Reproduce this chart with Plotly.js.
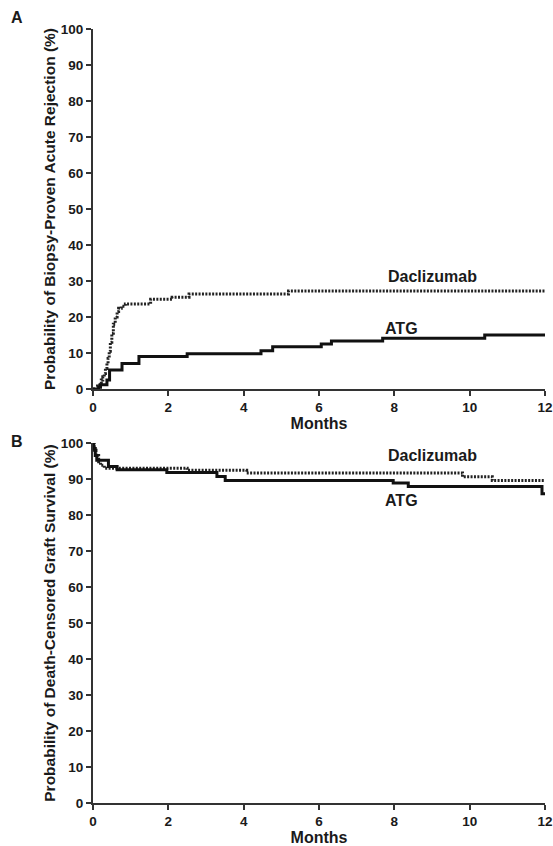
<!DOCTYPE html>
<html>
<head>
<meta charset="utf-8">
<script src="https://cdn.plot.ly/plotly-3.0.1.min.js"></script>
<style>html,body{margin:0;padding:0;background:#fff;}#chart{width:553px;height:846px;}</style>
</head>
<body>
<div id="chart"></div>
<script>
// Panel A: cumulative probability of biopsy-proven acute rejection (%)
const monthsA_dac = [0, 0.12, 0.18, 0.22, 0.26, 0.30, 0.33, 0.37, 0.40, 0.43, 0.46, 0.50, 0.54, 0.59, 0.64, 0.68, 0.75, 0.86, 1.53, 2.10, 2.55, 5.19, 12];
const rejA_dac    = [0, 0.8, 1.6, 2.5, 3.4, 4.3, 5.7, 7.1, 8.5, 10.5, 13.0, 15.5, 18.0, 20.0, 21.5, 22.4, 23.0, 23.6, 24.9, 25.5, 26.4, 27.2, 27.2];
const monthsA_atg = [0, 0.15, 0.20, 0.37, 0.44, 0.77, 1.22, 2.50, 4.46, 4.77, 6.06, 6.33, 7.69, 10.40, 12];
const rejA_atg    = [0, 0.5, 1.2, 2.5, 5.3, 7.1, 9.0, 9.8, 10.6, 11.7, 12.5, 13.3, 14.1, 15.0, 15.0];

// Panel B: probability of death-censored graft survival (%)
const monthsB_dac = [0, 0.03, 0.08, 0.15, 0.20, 0.30, 2.50, 4.08, 9.81, 10.60, 12];
const survB_dac   = [100, 98.0, 96.5, 94.8, 93.8, 93.0, 92.4, 91.7, 90.6, 89.6, 89.6];
const monthsB_atg = [0, 0.02, 0.06, 0.10, 0.41, 0.64, 1.96, 3.29, 3.51, 7.97, 8.37, 11.92, 12];
const survB_atg   = [100, 98.5, 96.5, 95.2, 93.5, 92.6, 91.8, 90.7, 89.6, 88.9, 87.9, 85.9, 85.9];

const seriesNames = ['Daclizumab', 'ATG'];
const yTitles = ['Probability of Biopsy-Proven Acute Rejection (%)', 'Probability of Death-Censored Graft Survival (%)'];
const xTitle = 'Months';
const panelLabels = ['A', 'B'];

const FONT = 'Liberation Sans, Arial, sans-serif';
const INK = '#1a1a1a';
const dotLine = {color: '#222', width: 3, dash: '2px,1.4px', shape: 'hv'};
const solidLine = {color: '#111', width: 3, shape: 'hv'};

const traces = [
  {x: monthsA_dac, y: rejA_dac, xaxis: 'x', yaxis: 'y', mode: 'lines', line: dotLine, name: seriesNames[0]},
  {x: monthsA_atg, y: rejA_atg, xaxis: 'x', yaxis: 'y', mode: 'lines', line: solidLine, name: seriesNames[1]},
  {x: monthsB_dac, y: survB_dac, xaxis: 'x2', yaxis: 'y2', mode: 'lines', line: dotLine, name: seriesNames[0]},
  {x: monthsB_atg, y: survB_atg, xaxis: 'x2', yaxis: 'y2', mode: 'lines', line: solidLine, name: seriesNames[1]}
];

const tickFont = {family: FONT, size: 13.5, color: INK, weight: 700};
function xax(anchor) {
  return {
    anchor: anchor, range: [0, 12], dtick: 2, tick0: 0,
    showline: true, linewidth: 2, linecolor: '#333', ticks: 'outside', ticklen: 5, tickwidth: 2, tickcolor: '#333',
    showgrid: false, zeroline: false, tickfont: tickFont,
    title: {text: xTitle, font: {family: FONT, size: 16, color: INK, weight: 700}, standoff: 3}
  };
}
function yax(anchor, dom, title) {
  return {
    anchor: anchor, domain: dom, range: [0, 100], dtick: 10, tick0: 0,
    showline: true, linewidth: 2, linecolor: '#333', ticks: 'outside', ticklen: 5, tickwidth: 2, tickcolor: '#333',
    showgrid: false, zeroline: false, tickfont: tickFont,
    title: {text: title, font: {family: FONT, size: 15.5, color: INK, weight: 700}, standoff: 1}
  };
}

const labelFont = {family: FONT, size: 16, color: INK, weight: 700};
const layout = {
  width: 553, height: 846,
  margin: {l: 93, r: 8, t: 29, b: 43},
  paper_bgcolor: '#fff', plot_bgcolor: '#fff',
  showlegend: false,
  xaxis: xax('y'),
  yaxis: yax('x', [0.5349, 1], yTitles[0]),
  xaxis2: xax('y2'),
  yaxis2: yax('x2', [0, 0.4651], yTitles[1]),
  annotations: [
    {xref: 'x', yref: 'y', x: 9.0, y: 31.2, text: seriesNames[0], showarrow: false, font: labelFont},
    {xref: 'x', yref: 'y', x: 8.18, y: 16.9, text: seriesNames[1], showarrow: false, font: labelFont},
    {xref: 'x2', yref: 'y2', x: 9.0, y: 96.6, text: seriesNames[0], showarrow: false, font: labelFont},
    {xref: 'x2', yref: 'y2', x: 8.18, y: 84.1, text: seriesNames[1], showarrow: false, font: labelFont},
    {xref: 'paper', yref: 'paper', x: -0.168, y: 1.0149, xanchor: 'center', yanchor: 'middle', text: panelLabels[0], showarrow: false, font: {family: FONT, size: 16, color: INK, weight: 700}},
    {xref: 'paper', yref: 'paper', x: -0.168, y: 0.4677, xanchor: 'center', yanchor: 'middle', text: panelLabels[1], showarrow: false, font: {family: FONT, size: 16, color: INK, weight: 700}}
  ]
};

Plotly.newPlot('chart', traces, layout, {displayModeBar: false, staticPlot: true});
</script>
</body>
</html>
